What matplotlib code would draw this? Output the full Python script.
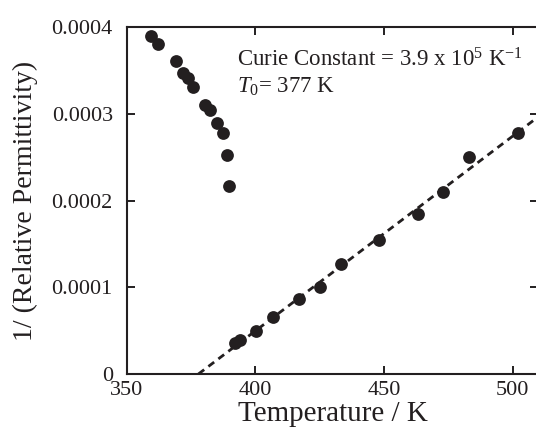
import numpy as np
import matplotlib
matplotlib.use("Agg")
import matplotlib.pyplot as plt
from matplotlib.ticker import FixedLocator, FuncFormatter

plt.rcParams['font.family'] = ['Liberation Serif', 'DejaVu Serif']
plt.rcParams['mathtext.fontset'] = 'custom'
plt.rcParams['mathtext.rm'] = 'Liberation Serif'
plt.rcParams['mathtext.it'] = 'Liberation Serif:italic'

# Ferroelectric (below Tc) branch
temp_low = [359.3, 362.3, 369.2, 372.0, 373.9, 375.9, 380.4, 382.4, 385.0, 387.3, 388.9, 389.8]
inv_eps_low = [3.90e-4, 3.80e-4, 3.61e-4, 3.47e-4, 3.41e-4, 3.31e-4, 3.10e-4, 3.04e-4,
               2.89e-4, 2.78e-4, 2.52e-4, 2.17e-4]
# Paraelectric (above Tc) branch
temp_high = [392.1, 394.0, 400.1, 407.0, 417.1, 425.1, 433.2, 448.2, 463.3, 473.0, 483.2, 502.1]
inv_eps_high = [3.54e-5, 3.92e-5, 4.99e-5, 6.61e-5, 8.61e-5, 9.99e-5, 1.268e-4, 1.544e-4,
                1.844e-4, 2.101e-4, 2.498e-4, 2.78e-4]

xticks = [350, 400, 450, 500]
yticks = [0, 0.0001, 0.0002, 0.0003, 0.0004]
annot1 = r'Curie Constant = 3.9 x 10$^{5}$ K$^{-1}$'
annot2 = r'$T_{0}$= 377 K'

ink = '#231f20'
W, H = 536, 434
fig = plt.figure(figsize=(W / 100, H / 100), dpi=100)
left_px, right_px, top_px, bot_px = 126.7, 538.4, 27, 374
ax = fig.add_axes([left_px / W, (H - bot_px) / H, (right_px - left_px) / W, (bot_px - top_px) / H])

# Curie-Weiss fit to the paraelectric branch
slope, icpt = np.polyfit(temp_high, inv_eps_high, 1)
t0 = -icpt / slope
tfit = np.array([t0, 515.0])
ax.plot(tfit, slope * tfit + icpt, color=ink, lw=2.0, dashes=(2.6, 1.9), zorder=2)

ax.plot(temp_low, inv_eps_low, 'o', color=ink, ms=9.2, mew=0, zorder=3)
ax.plot(temp_high, inv_eps_high, 'o', color=ink, ms=9.2, mew=0, zorder=3)

ax.set_xlim(350, 510)
ax.set_ylim(0, 0.0004)
ax.xaxis.set_major_locator(FixedLocator(xticks))
ax.yaxis.set_major_locator(FixedLocator(yticks))
ax.yaxis.set_major_formatter(FuncFormatter(lambda v, p: '0' if v == 0 else f'{v:.4f}'))

for s in ax.spines.values():
    s.set_linewidth(1.5)
    s.set_color(ink)
ax.tick_params(direction='in', length=6, width=1.4, color=ink, top=True, right=True,
               labelsize=16, labelcolor=ink)
ax.tick_params(axis='y', pad=10)
ax.tick_params(axis='x', pad=5)

ax.set_xlabel('Temperature / K', fontsize=21, color=ink, labelpad=1)
ax.set_ylabel('1/ (Relative Permittivity)', fontsize=20, color=ink, labelpad=10)

ax.text(0.268, 0.8876, annot1, transform=ax.transAxes, fontsize=16.5, color=ink, va='baseline')
ax.text(0.268, 0.81, annot2, transform=ax.transAxes, fontsize=16.5, color=ink, va='baseline')

fig.savefig('out.png', dpi=100)
